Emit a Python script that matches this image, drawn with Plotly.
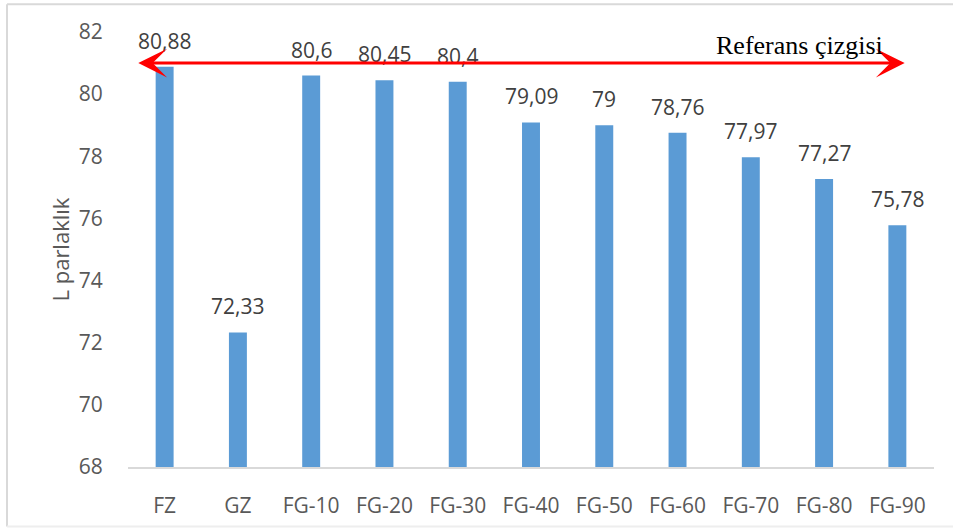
import plotly.graph_objects as go

# Sample codes and their L* brightness values
categories = ["FZ", "GZ", "FG-10", "FG-20", "FG-30", "FG-40",
              "FG-50", "FG-60", "FG-70", "FG-80", "FG-90"]
brightness = [80.88, 72.33, 80.6, 80.45, 80.4, 79.09,
              79.0, 78.76, 77.97, 77.27, 75.78]
y_ticks = [68, 70, 72, 74, 76, 78, 80, 82]

# Reference line level and horizontal extent (in category units)
reference_level = 81
reference_span = (-0.38, 10.1)
reference_label = "Referans çizgisi"

BAR_COLOR = "#5b9bd5"
FONT = "Open Sans, Lato, sans-serif"


def fmt(v):
    s = f"{v:.2f}".rstrip("0").rstrip(".")
    return s.replace(".", ",")


fig = go.Figure(
    go.Bar(
        x=categories,
        y=brightness,
        marker=dict(color=BAR_COLOR, line=dict(width=0)),
        hoverinfo="skip",
    )
)

annotations = []
# value labels above each bar
for cat, val in zip(categories, brightness):
    annotations.append(dict(
        x=cat, y=val, xref="x", yref="y",
        text=fmt(val), showarrow=False,
        yanchor="bottom", xanchor="center", yshift=10,
        font=dict(family=FONT, size=21, color="#404040"),
    ))

# double-headed reference arrow
annotations.append(dict(
    x=reference_span[1], y=reference_level, xref="x", yref="y",
    ax=reference_span[0], ay=reference_level, axref="x", ayref="y",
    text="", showarrow=True, arrowside="end+start",
    arrowhead=3, startarrowhead=3, arrowsize=1.6, startarrowsize=1.6,
    arrowwidth=3, arrowcolor="#ff0000", standoff=0, startstandoff=0,
))
annotations.append(dict(
    x=9.83, y=reference_level, xref="x", yref="y",
    text=reference_label, showarrow=False,
    xanchor="right", yanchor="bottom", yshift=1.5,
    font=dict(family="Liberation Serif, Times New Roman, serif", size=26, color="#000000"),
))

# y-axis title
annotations.append(dict(
    x=-0.0856, y=0.5, xref="paper", yref="paper",
    text="L parlaklık", showarrow=False, textangle=-90,
    xanchor="center", yanchor="middle",
    font=dict(family=FONT, size=22, color="#595959"),
))

frame = dict(color="#d9d9d9", width=2)
shapes = [
    dict(type="line", xref="paper", yref="paper", x0=-0.1501, x1=1.05, y0=1.0639, y1=1.0639, line=frame),
    dict(type="line", xref="paper", yref="paper", x0=-0.1501, x1=-0.1501, y0=1.0639, y1=-0.137, line=frame),
    dict(type="line", xref="paper", yref="paper", x0=-0.1501, x1=1.05, y0=-0.137, y1=-0.137, line=dict(color="#eeeeee", width=2)),
]

fig.update_layout(
    width=953, height=531,
    margin=dict(l=128, r=19, t=32, b=61),
    paper_bgcolor="white", plot_bgcolor="white",
    bargap=0.755,
    showlegend=False,
    annotations=annotations,
    shapes=shapes,
    font=dict(family=FONT, color="#595959"),
)
fig.update_xaxes(
    showgrid=False, showline=True, linecolor="#d9d9d9", linewidth=2,
    ticks="outside", ticklen=19, tickcolor="rgba(0,0,0,0)",
    tickfont=dict(family=FONT, size=21, color="#595959"),
    range=[-0.5, 10.5], fixedrange=True,
)
fig.update_yaxes(
    range=[68, 82], tickvals=y_ticks, showgrid=False, zeroline=False,
    showline=False, ticks="outside", ticklen=20, tickcolor="rgba(0,0,0,0)",
    tickfont=dict(family=FONT, size=21, color="#595959"),
    fixedrange=True,
)

fig.write_html("out.html", config={"displayModeBar": False})
